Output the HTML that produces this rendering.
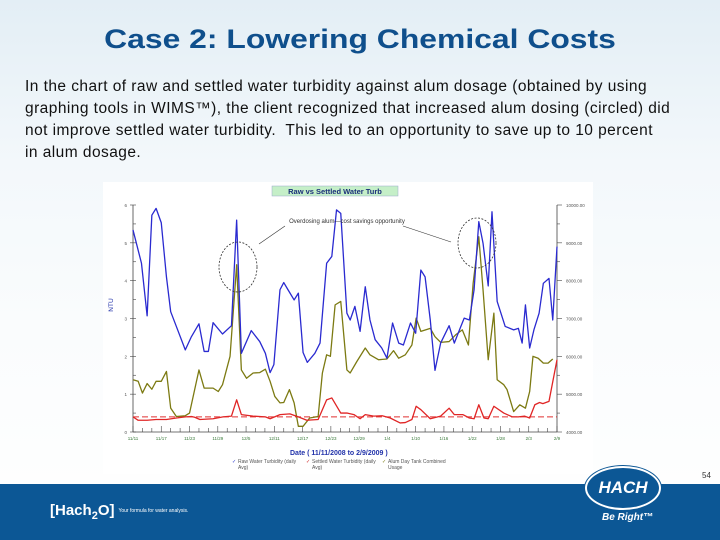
<!DOCTYPE html>
<html><head><meta charset="utf-8"><style>
body{margin:0;width:720px;height:540px;overflow:hidden;position:relative;font-family:"Liberation Sans",sans-serif;background:linear-gradient(180deg,#e3eef5 0%,#f3f8fb 30%,#fafcfd 60%,#ffffff 100%);}
#title{position:absolute;left:0;width:720px;top:24px;text-align:center;font-weight:bold;font-size:27px;color:#0f4f8c;transform:scaleX(1.18);transform-origin:center;}
.ln{position:absolute;left:25px;font-size:15.5px;color:#111;white-space:nowrap;letter-spacing:0.45px;transform-origin:left;}
#footer{position:absolute;left:0;top:484px;width:720px;height:56px;background:#0c5795;}
</style></head><body>
<div id="title">Case 2: Lowering Chemical Costs</div>
<div>
<div class="ln" style="top:78px">In the chart of raw and settled water turbidity against alum dosage (obtained by using</div>
<div class="ln" style="top:100px">graphing tools in WIMS™), the client recognized that increased alum dosing (circled) did</div>
<div class="ln" style="top:122px">not improve settled water turbidity.&nbsp; This led to an opportunity to save up to 10 percent</div>
<div class="ln" style="top:144px">in alum dosage.</div>
</div>
<svg id="chart" width="720" height="540" style="position:absolute;left:0;top:0" xmlns="http://www.w3.org/2000/svg">
<rect x="103" y="182" width="490" height="292" fill="#ffffff"/>
<rect x="272" y="186" width="126" height="10" fill="#c5efc8" stroke="#9ac" stroke-width="0.5"/>
<text x="335" y="194" font-size="7.5" font-weight="bold" fill="#1a2f7a" text-anchor="middle">Raw vs Settled Water Turb</text>
<g id="axes"></g>
<g id="series"></g>
<ellipse cx="238" cy="267" rx="19" ry="25" fill="none" stroke="#333" stroke-width="0.8" stroke-dasharray="2,1.5"/>
<ellipse cx="477" cy="243" rx="19" ry="25" fill="none" stroke="#333" stroke-width="0.8" stroke-dasharray="2,1.5"/>
<text x="347" y="223" font-size="6" fill="#333" text-anchor="middle">Overdosing alum—cost savings opportunity</text>
<line x1="285" y1="226" x2="259" y2="244" stroke="#333" stroke-width="0.6"/>
<line x1="403" y1="226" x2="451" y2="242" stroke="#333" stroke-width="0.6"/>
<text x="290" y="455" font-size="7" font-weight="bold" fill="#2233aa">Date  ( 11/11/2008  to  2/9/2009 )</text>
<text x="113" y="305" font-size="6.5" fill="#2233aa" transform="rotate(-90 113 305)" text-anchor="middle">NTU</text>
<g font-size="5" fill="#555">
<text x="232" y="463" fill="#2233cc">✓</text><text x="238" y="463">Raw Water Turbidity (daily</text><text x="238" y="469">Avg)</text>
<text x="306" y="463" fill="#cc2222">✓</text><text x="312" y="463">Settled Water Turbidity (daily</text><text x="312" y="469">Avg)</text>
<text x="382" y="463" fill="#7a7a10">✓</text><text x="388" y="463">Alum Day Tank Combined</text><text x="388" y="469">Usage</text>
</g>
</svg>
<div id="footer">
<div style="position:absolute;left:50px;top:18px;color:#fff;font-weight:bold;font-size:15px;">[Hach<sub style="font-size:11px">2</sub>O]<span style="font-size:5px;font-weight:normal;margin-left:4px;vertical-align:middle">Your formula for water analysis.</span></div>
<div style="position:absolute;left:602px;top:28px;color:#fff;font-weight:bold;font-style:italic;font-size:10px;">Be Right™</div>
</div>
<div style="position:absolute;left:585px;top:466px;width:72px;height:40px;border-radius:50%;background:#0c5795;border:2px solid #fff;box-shadow:0 0 0 1px #0c5795;color:#fff;font-weight:bold;font-style:italic;font-size:17px;text-align:center;line-height:40px;">HACH</div>
<div style="position:absolute;left:702px;top:471px;font-size:8px;color:#333">54</div>
<script>
const dateTicks=["11/11","11/17","11/23","11/29","12/5","12/11","12/17","12/23","12/29","1/4","1/10","1/16","1/22","1/28","2/3","2/9"];
const leftTicks=[0,1,2,3,4,5,6];
const rightTicks=["4000.00","5000.00","6000.00","7000.00","8000.00","9000.00","10000.00"];
const rawDays=[0,1.8,3.0,4.0,4.9,6.0,7.1,8.0,9.2,11.1,12.4,14.0,15.1,16.0,17.0,19.0,20.9,22.0,23.0,25.1,26.9,28.1,29.1,29.9,31.2,32.0,32.9,34.2,35.1,36.1,37.0,38.6,39.7,41.1,42.2,43.2,44.1,45.4,46.1,47.1,48.2,49.3,50.3,51.4,52.8,53.9,55.1,56.4,57.4,58.9,60.0,61.1,62.0,63.1,64.1,65.3,67.1,68.2,69.3,70.3,71.4,72.4,73.4,74.3,75.4,76.2,77.3,79.0,80.8,81.8,82.6,83.3,84.2,85.1,86.2,87.1,88.3,89.1,90.0];
const rawVals=[5.34,4.46,3.07,5.73,5.91,5.53,4.1,3.18,2.79,2.17,2.52,2.86,2.13,2.13,2.89,2.59,2.81,5.6,2.08,2.68,2.39,2.08,1.57,1.78,3.76,3.95,3.76,3.49,3.67,2.1,1.84,2.08,2.35,4.46,4.64,5.87,5.78,3.14,2.96,3.32,2.66,3.84,2.96,2.44,2.22,1.95,2.88,2.35,2.3,2.88,2.61,4.28,4.1,2.96,1.63,2.35,2.81,2.35,2.7,3.01,2.96,3.76,5.56,4.99,3.86,5.82,3.45,2.79,2.7,2.74,2.35,3.36,2.22,2.7,3.14,3.93,4.06,2.96,4.9];
const alumDays=[0,1.1,2.0,3.0,4.0,4.9,6.0,7.1,8.0,9.2,11.1,12.0,14.0,15.1,17.0,18.1,19.0,20.6,22.0,23.0,24.1,25.5,26.9,28.1,29.1,30.1,31.2,32.0,33.2,34.2,35.1,36.1,37.5,39.3,40.2,41.1,41.9,42.9,44.1,45.4,46.1,47.5,49.3,50.3,52.1,53.9,55.3,56.4,57.8,59.2,60.1,61.1,63.1,64.1,65.3,67.1,68.5,69.9,71.2,72.2,73.4,74.3,75.4,76.6,77.3,78.7,79.4,80.8,82.1,83.3,84.2,84.9,86.0,87.1,88.1,89.1];
const alumVals=[5380,5340,5030,5280,5130,5340,5340,5600,4630,4410,4430,4500,5640,5160,5160,5070,5250,6000,8420,5640,5420,5560,5570,5660,5340,4940,4770,4780,5120,4770,4150,4150,4370,4410,5560,6040,6000,7360,7450,5640,5560,5860,6220,6040,5910,5930,6150,5950,6040,6300,7010,6660,6740,6520,6370,6390,6570,6700,6300,7930,9160,7760,5910,7140,5380,5250,5120,4540,4720,4630,5070,6000,5950,5820,5820,5930];
const setDays=[0,1.1,3.0,4.9,7.1,9.2,11.1,12.4,13.1,14.2,17.0,19.1,20.9,22.0,23.0,25.5,28.1,29.1,31.2,33.3,35.1,36.9,39.3,41.1,42.2,44.1,45.5,46.9,48.2,49.3,51.1,52.9,54.6,56.7,57.8,59.2,60.1,61.1,63.1,65.3,67.1,68.2,70.0,71.4,72.4,73.4,74.5,75.4,76.6,78.7,80.5,81.8,83.1,84.2,85.3,86.3,87.0,88.3,90.0];
const setVals=[0.4,0.31,0.31,0.33,0.33,0.37,0.4,0.41,0.39,0.33,0.35,0.4,0.42,0.85,0.46,0.42,0.4,0.35,0.46,0.48,0.4,0.31,0.33,0.85,0.9,0.5,0.5,0.46,0.35,0.46,0.42,0.43,0.37,0.24,0.25,0.33,0.68,0.59,0.35,0.42,0.63,0.46,0.46,0.37,0.35,0.72,0.37,0.35,0.68,0.5,0.4,0.4,0.42,0.37,0.72,0.78,0.75,0.81,1.91];
const setpoint=0.4;
const X0=133,X1=557,YT=205,YB=432,DAYS=90;
const xs=d=>X0+(X1-X0)*d/DAYS;
const yl=v=>YB-(YB-YT)*v/6;
const yr=v=>YB-(YB-YT)*(v-4000)/6000;
const NS="http://www.w3.org/2000/svg";
function mk(tag,attrs,parent){const e=document.createElementNS(NS,tag);for(const k in attrs)e.setAttribute(k,attrs[k]);parent.appendChild(e);return e;}
const ax=document.getElementById('axes'),sg=document.getElementById('series');
let a=mk('line',{x1:X0,y1:YT,x2:X0,y2:YB,stroke:'#444','stroke-width':0.8},ax);


a=mk('line',{x1:X1,y1:YT,x2:X1,y2:YB,stroke:'#444','stroke-width':0.8},ax);


a=mk('line',{x1:X0,y1:YB,x2:X1,y2:YB,stroke:'#444','stroke-width':0.8},ax);


leftTicks.forEach(v=>{const y=yl(v);mk('line',{x1:X0-3,y1:y,x2:X0,y2:y,stroke:'#444','stroke-width':0.6},ax);
const t=mk('text',{x:X0-6,y:y+2,'font-size':4.5,fill:'#555','text-anchor':'end'},ax);t.textContent=v;

});
for(let i=0;i<=12;i++){const y=YB-(YB-YT)*i/12;mk('line',{x1:X1,y1:y,x2:X1+(i%2?3:5),y2:y,stroke:'#444','stroke-width':0.6},ax);mk('line',{x1:X0,y1:y,x2:X0+3,y2:y,stroke:'#444','stroke-width':0.6},ax);}
rightTicks.forEach(v=>{const y=yr(+v);const t=mk('text',{x:X1+9,y:y+2,'font-size':4.5,fill:'#555'},ax);t.textContent=v;

});
for(let d=0;d<=DAYS;d+=2){const x=xs(d);mk('line',{x1:x,y1:YB,x2:x,y2:YB-(d%6===0?6:4),stroke:'#444','stroke-width':0.6},ax);}
dateTicks.forEach((s,i)=>{const t=mk('text',{x:xs(i*6),y:YB+8,'font-size':4.5,fill:'#3a7a3a','text-anchor':'middle'},ax);t.textContent=s;

});
let sp=mk('line',{x1:X0,y1:yl(setpoint),x2:X1,y2:yl(setpoint),stroke:'#e03030','stroke-width':0.9,'stroke-dasharray':'6,3'},sg);


function line(days,vals,f,color){const p=mk('polyline',{points:days.map((d,i)=>xs(d)+','+f(vals[i])).join(' '),fill:'none',stroke:color,'stroke-width':1.3,'stroke-linejoin':'round'},sg);return p;}
let p=line(alumDays,alumVals,yr,'#7c7a12');


p=line(setDays,setVals,yl,'#e02525');


p=line(rawDays,rawVals,yl,'#2a2ad0');


</script>
</body></html>
